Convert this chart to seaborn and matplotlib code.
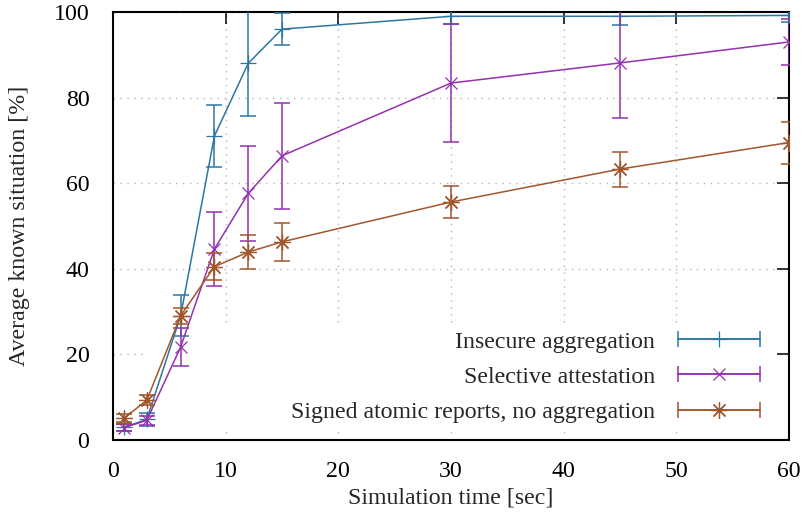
import matplotlib
matplotlib.use("Agg")
import matplotlib.pyplot as plt
import seaborn as sns
import pandas as pd
from matplotlib.lines import Line2D
from matplotlib.patches import Rectangle
from matplotlib.legend_handler import HandlerLine2D, HandlerTuple

# Average share of the situation known per node, mean with error bars
sim_time = [1, 3, 6, 9, 12, 15, 30, 45, 60]

insecure_mean = [3.0, 4.8, 29.0, 71.0, 88.0, 96.0, 99.0, 99.0, 99.2]
insecure_err = [0.8, 1.5, 4.8, 7.3, 12.3, 3.8, 1.9, 2.0, 1.5]

selective_mean = [2.9, 4.6, 21.7, 44.6, 57.6, 66.4, 83.4, 88.1, 93.0]
selective_err = [0.8, 1.0, 4.4, 8.7, 11.2, 12.4, 13.8, 12.9, 5.4]

signed_mean = [5.1, 9.3, 29.0, 40.5, 43.9, 46.3, 55.6, 63.3, 69.5]
signed_err = [1.0, 1.2, 1.9, 3.1, 4.0, 4.4, 3.7, 4.1, 4.9]

labels = ["Insecure aggregation", "Selective attestation",
          "Signed atomic reports, no aggregation"]
colors = ["#2c77a0", "#9530b0", "#a2562c"]
markers = ["+", "x", (8, 2, 0)]
marker_sizes = [12, 8.5, 12]

x_ticks = [0, 10, 20, 30, 40, 50, 60]
y_ticks = [0, 20, 40, 60, 80, 100]

sns.set_theme(style="white")
plt.rcParams["font.family"] = ["Liberation Serif", "DejaVu Serif"]
FS = 17.2

fig = plt.figure(figsize=(8.02, 5.12), dpi=100)
ax = fig.add_axes([113 / 802, 72 / 512, 676 / 802, 428 / 512])

series = [(insecure_mean, insecure_err), (selective_mean, selective_err),
          (signed_mean, signed_err)]

# gnuplot-like opaque key box: sits above the grid but below the data
ax.add_patch(Rectangle((0.052, 0.03), 0.929, 0.243, transform=ax.transAxes,
                       facecolor="white", edgecolor="none", zorder=1))

for (mean, err), label, c, m, ms in zip(series, labels, colors, markers, marker_sizes):
    df = pd.DataFrame({"t": sim_time, "v": mean})
    sns.lineplot(data=df, x="t", y="v", ax=ax, color=c, marker=m, markersize=ms,
                 markeredgewidth=0.9, markeredgecolor=c, linewidth=1.1, zorder=3)
    ax.errorbar(sim_time, mean, yerr=err, fmt="none", ecolor=c, elinewidth=1.1,
                capsize=5.5, capthick=1.1, zorder=3)

ax.set_xlim(0, 60)
ax.set_ylim(0, 100)
ax.set_xticks(x_ticks)
ax.set_yticks(y_ticks)
ax.set_axisbelow(True)
ax.grid(True, color="#b4b4b4", linestyle=(0, (1, 4)), linewidth=1.0)
ax.tick_params(direction="in", length=8.6, width=1.1, top=True, right=True,
               labelsize=FS, colors="black")
ax.tick_params(axis="x", pad=15)
ax.tick_params(axis="y", pad=17)
for sp in ax.spines.values():
    sp.set_color("black")
    sp.set_linewidth(1.5)

ax.set_xlabel("Simulation time [sec]", fontsize=FS, labelpad=4)
ax.set_ylabel("Average known situation [%]", fontsize=FS, labelpad=17)

# legend samples: line with end caps and the series marker in the middle
handles = []
hmap = {tuple: HandlerTuple()}
for c, m, ms in zip(colors, markers, marker_sizes):
    caps = Line2D([], [], color=c, lw=1.1, marker="|", markersize=12, markeredgewidth=1.1)
    mark = Line2D([], [], color=c, lw=1.1, marker=m, markersize=ms, markeredgewidth=0.9)
    hmap[caps] = HandlerLine2D(numpoints=2, marker_pad=0)
    hmap[mark] = HandlerLine2D(numpoints=1)
    handles.append((caps, mark))

ax.legend(handles, labels, handler_map=hmap, loc="lower right",
          bbox_to_anchor=(0.957, 0.04), markerfirst=False, frameon=False,
          handlelength=3.45, handletextpad=0.95, labelspacing=0.56,
          borderpad=0, borderaxespad=0, fontsize=FS)

fig.savefig("out.png", dpi=100)
